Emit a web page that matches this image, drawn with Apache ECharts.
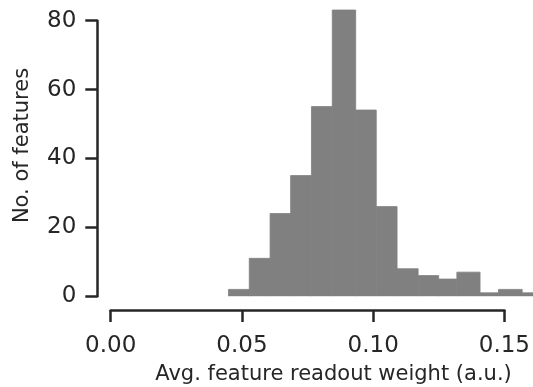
<!DOCTYPE html>
<html>
<head>
<meta charset="utf-8">
<script src="https://cdn.jsdelivr.net/npm/echarts@6/dist/echarts.min.js"></script>
<style>
  html, body { margin: 0; padding: 0; background: #fff; }
  #chart { width: 533px; height: 387px; }
</style>
</head>
<body>
<div id="chart"></div>
<script>
// Histogram bin edges (feature readout weight) and counts per bin
const binEdges = [0.0447, 0.0526, 0.0605, 0.0683, 0.0762, 0.0841, 0.0930, 0.1008,
                  0.1087, 0.1167, 0.1245, 0.1314, 0.1402, 0.1472, 0.1562, 0.1641];
const counts = [2, 11, 24, 35, 55, 83, 54, 26, 8, 6, 5, 7, 1, 2, 1];

const xTicks = [0, 0.05, 0.10, 0.15];
const yTicks = [0, 20, 40, 60, 80];

const xTitle = 'Avg. feature readout weight (a.u.)';
const yTitle = 'No. of features';

const ink = '#262626';
const barColor = '#808080';
const font = 'DejaVu Sans';

const bins = counts.map((c, i) => [binEdges[i], binEdges[i + 1], c]);

const chart = echarts.init(document.getElementById('chart'), null, { renderer: 'canvas' });

const spine = { show: true, lineStyle: { color: ink, width: 2.5 } };
const tick = { show: true, length: 12, lineStyle: { color: ink, width: 2.5 } };

chart.setOption({
  animation: false,
  grid: [
    // plotting area for the bars
    { left: 110.7, right: 0, top: 0, bottom: 90.7 },
    // detached left spine
    { left: 97.3, top: 20.7, height: 275.6, width: 10 },
    // detached bottom spine
    { left: 110.7, width: 395, bottom: 77, height: 10 }
  ],
  xAxis: [
    { gridIndex: 0, type: 'value', min: 0, max: 0.1603, show: false },
    { gridIndex: 1, type: 'value', show: false },
    {
      gridIndex: 2, type: 'value', position: 'bottom',
      min: xTicks[0], max: xTicks[xTicks.length - 1], interval: 0.05,
      axisLine: spine, axisTick: tick, splitLine: { show: false },
      axisLabel: { margin: 25, formatter: v => v.toFixed(2),
                   color: ink, fontFamily: font, fontSize: 23 }
    }
  ],
  yAxis: [
    { gridIndex: 0, type: 'value', min: 0, max: 85.9, show: false },
    {
      gridIndex: 1, type: 'value', position: 'left',
      min: yTicks[0], max: yTicks[yTicks.length - 1], interval: 20,
      axisLine: spine, axisTick: tick, splitLine: { show: false },
      axisLabel: { margin: 21, color: ink, fontFamily: font, fontSize: 23 }
    },
    { gridIndex: 2, type: 'value', show: false }
  ],
  series: [{
    type: 'custom',
    xAxisIndex: 0,
    yAxisIndex: 0,
    clip: true,
    data: bins,
    encode: { x: [0, 1], y: 2 },
    renderItem: function (params, api) {
      const p0 = api.coord([api.value(0), 0]);
      const p1 = api.coord([api.value(1), api.value(2)]);
      const shape = echarts.graphic.clipRectByRect({
        x: p0[0], y: p1[1], width: p1[0] - p0[0], height: p0[1] - p1[1]
      }, {
        x: params.coordSys.x, y: params.coordSys.y,
        width: params.coordSys.width, height: params.coordSys.height
      });
      return shape && {
        type: 'rect',
        shape: shape,
        // same-colour outline hides anti-aliased seams between adjacent bins
        style: { fill: barColor, stroke: barColor, lineWidth: 0.8 }
      };
    }
  }],
  graphic: [
    {
      type: 'text', x: 333.5, y: 375,
      style: { text: xTitle, fill: ink, font: '21px "' + font + '"',
               textAlign: 'center', textVerticalAlign: 'middle' }
    },
    {
      type: 'text', x: 23, y: 145.5, rotation: Math.PI / 2,
      style: { text: yTitle, fill: ink, font: '21px "' + font + '"',
               textAlign: 'center', textVerticalAlign: 'middle' }
    }
  ]
});
</script>
</body>
</html>
